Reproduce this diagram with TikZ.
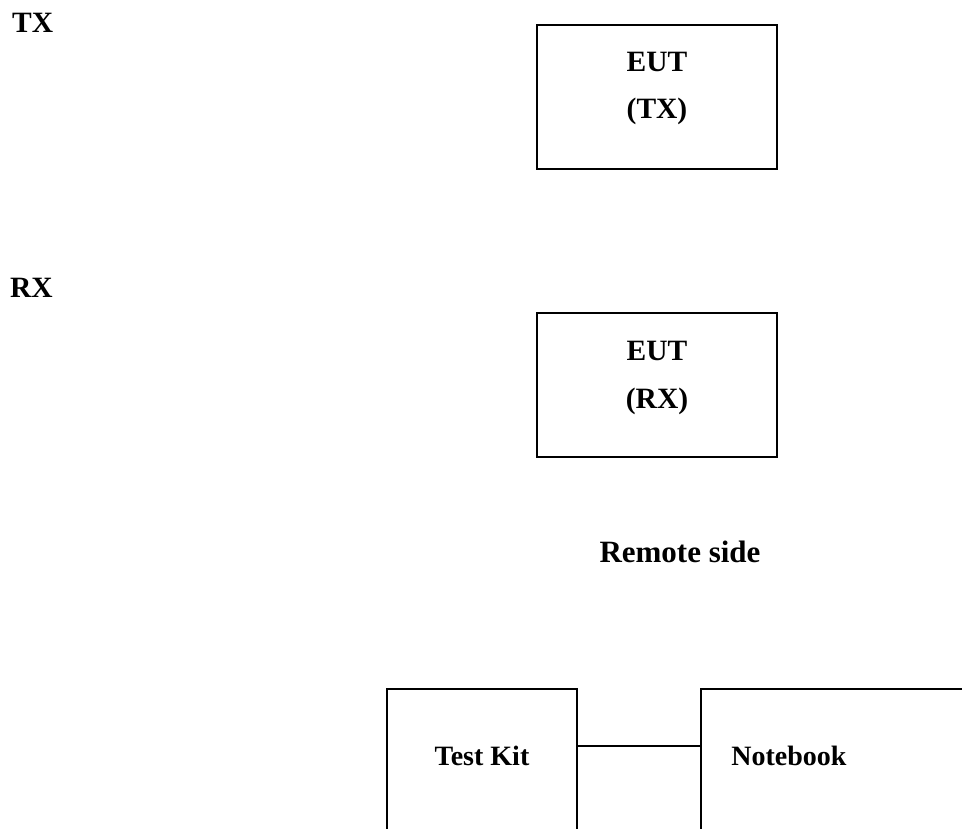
\documentclass[tikz,border=0pt]{standalone}
\usepackage{fontspec}
\setmainfont{Liberation Serif}
\begin{document}
\begin{tikzpicture}[x=1pt,y=-1pt,
  boxline/.style={draw=black, line width=1.2pt},
  area/.style={inner sep=0pt, outer sep=0pt},
  lbl/.style={inner sep=0pt, anchor=base, font=\fontsize{29.5}{34}\selectfont\bfseries}]
\useasboundingbox (0,0) rectangle (962,829);
% side labels
\node[lbl, anchor=base west] (tx) at (12,33) {TX};
\node[lbl, anchor=base west] (rx) at (10,298) {RX};
% EUT (TX)
\node[area, boxline, minimum width=240pt, minimum height=144pt] (euttx) at (657,97) {};
\node[lbl] (euttxa) at (657,72) {EUT};
\node[lbl] (euttxb) at (657,119) {(TX)};
% EUT (RX)
\node[area, boxline, minimum width=240pt, minimum height=144pt] (eutrx) at (657,385) {};
\node[lbl] (eutrxa) at (657,360) {EUT};
\node[lbl] (eutrxb) at (657,408) {(RX)};
% Remote side
\node[lbl, font=\fontsize{31}{36}\selectfont\bfseries] (remote) at (680,562) {Remote side};
% Test Kit (open at bottom)
\node[area, minimum width=190pt, minimum height=140pt] (tk) at (482,759) {};
\draw[boxline] (tk.south west) -- (tk.north west) -- (tk.north east) -- (tk.south east);
\node[lbl, font=\fontsize{28}{32}\selectfont\bfseries] (tkt) at (482,765) {Test Kit};
% Notebook (open at bottom and right)
\node[area, minimum width=261pt, minimum height=140pt] (nb) at (831.5,759) {};
\draw[boxline] (nb.south west) -- (nb.north west) -- (nb.north east);
\node[lbl, font=\fontsize{28}{32}\selectfont\bfseries] (nbt) at (789,765) {Notebook};
% connector
\coordinate (c1) at (tk.east |- 0,746);
\coordinate (c2) at (nb.west |- 0,746);
\draw[boxline] (c1) -- (c2);
\end{tikzpicture}
\end{document}
